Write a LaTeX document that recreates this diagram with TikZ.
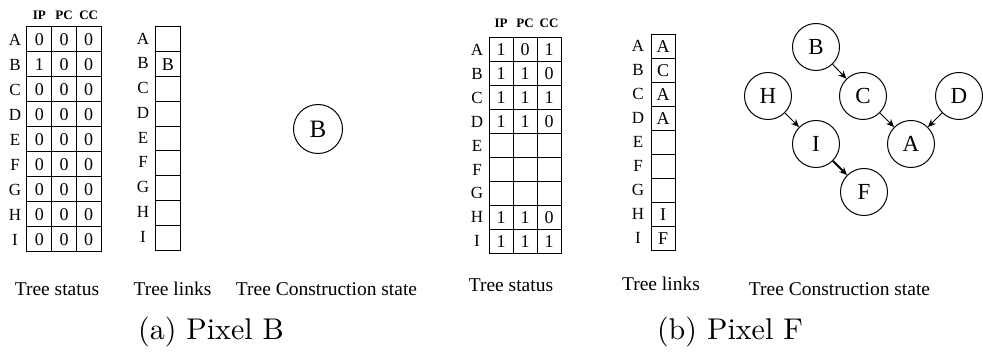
\documentclass[tikz,border=0pt]{standalone}
\usepackage{fontspec}
\newfontfamily\tnr{Liberation Serif}
\newfontfamily\capfont{lmroman10-regular.otf}
\usetikzlibrary{arrows.meta}
\tikzset{
  cell/.style={draw, line width=1pt, inner sep=0pt, font=\tnr\fontsize{18}{18}\selectfont},
  rowlab/.style={font=\tnr\fontsize{17}{17}\selectfont, inner sep=0pt},
  hdr/.style={font=\tnr\bfseries\fontsize{13}{13}\selectfont, inner sep=0pt},
  lab/.style={font=\tnr\fontsize{19.5}{19.5}\selectfont, inner sep=0pt},
  capt/.style={font=\capfont\fontsize{30}{30}\selectfont, inner sep=0pt},
  tnode/.style={circle, draw, line width=1pt, minimum size=47pt, inner sep=0pt, font=\tnr\fontsize{23}{23}\selectfont},
  arr/.style={-{Stealth[length=8pt,width=7pt]}, line width=1pt}
}
\begin{document}
\begin{tikzpicture}[x=1pt,y=-1pt]
\useasboundingbox (0,0) rectangle (983,352);
% ---------------- panel (a) ----------------
\node[hdr] (ha-1) at (39.3,15) {IP};
\node[hdr] (ha-2) at (64,15) {PC};
\node[hdr] (ha-3) at (88.7,15) {CC};
\foreach \r/\a/\b/\c/\l [count=\i from 0] in {A/0/0/0/{},B/1/0/0/B,C/0/0/0/{},D/0/0/0/{},E/0/0/0/{},F/0/0/0/{},G/0/0/0/{},H/0/0/0/{},I/0/0/0/{}}{
  \pgfmathsetmacro\yy{27+25*\i+12.5}
  \node[rowlab] (ra-\r) at (15,\yy) {\r};
  \node[cell, minimum width=24.67pt, minimum height=25pt] (ta-\r-1) at (39.3,\yy) {\a};
  \node[cell, minimum width=24.67pt, minimum height=25pt] (ta-\r-2) at (64,\yy) {\b};
  \node[cell, minimum width=24.67pt, minimum height=25pt] (ta-\r-3) at (88.7,\yy) {\c};
  \pgfmathsetmacro\zz{27+24.8*\i+12.4}
  \node[rowlab] (la-\r) at (143,\zz-1) {\r};
  \node[cell, minimum width=24.5pt, minimum height=24.8pt] (ka-\r) at (167.8,\zz) {\l};
}
\node[tnode, minimum size=49pt, font=\tnr\fontsize{25}{25}\selectfont] (ga-B) at (318,129) {B};
\node[lab] (sa-1) at (57,289) {Tree status};
\node[lab] (sa-2) at (172.5,289) {Tree links};
\node[lab] (sa-3) at (326.5,289) {Tree Construction state};
\node[capt] (ca) at (211,332) {(a) Pixel B};
% ---------------- panel (b) ----------------
\node[hdr] (hb-1) at (501,23) {IP};
\node[hdr] (hb-2) at (525,23) {PC};
\node[hdr] (hb-3) at (549,23) {CC};
\foreach \r/\a/\b/\c/\l [count=\i from 0] in {A/1/0/1/A,B/1/1/0/C,C/1/1/1/A,D/1/1/0/A,E/{}/{}/{}/{},F/{}/{}/{}/{},G/{}/{}/{}/{},H/1/1/0/I,I/1/1/1/F}{
  \pgfmathsetmacro\yy{38+23.9*\i+11.95}
  \node[rowlab] (rb-\r) at (477,\yy) {\r};
  \node[cell, minimum width=24pt, minimum height=23.9pt] (tb-\r-1) at (501,\yy) {\a};
  \node[cell, minimum width=24pt, minimum height=23.9pt] (tb-\r-2) at (525,\yy) {\b};
  \node[cell, minimum width=24pt, minimum height=23.9pt] (tb-\r-3) at (549,\yy) {\c};
  \pgfmathsetmacro\zz{35+24*\i+12}
  \node[rowlab] (lb-\r) at (638,\zz-1) {\r};
  \node[cell, minimum width=24pt, minimum height=24pt] (kb-\r) at (663,\zz) {\l};
}
\node[tnode] (gb-B) at (816,47) {B};
\node[tnode] (gb-H) at (768,96) {H};
\node[tnode] (gb-C) at (863,96) {C};
\node[tnode] (gb-D) at (959,96) {D};
\node[tnode] (gb-I) at (816,144) {I};
\node[tnode] (gb-A) at (911,144) {A};
\node[tnode] (gb-F) at (864,192) {F};
\draw[arr] (gb-B) -- (gb-C);
\draw[arr] (gb-H) -- (gb-I);
\draw[arr] (gb-C) -- (gb-A);
\draw[arr] (gb-D) -- (gb-A);
\draw[arr, line width=2pt] (gb-I) -- (gb-F);
\node[lab] (sb-1) at (511,285) {Tree status};
\node[lab] (sb-2) at (661,284) {Tree links};
\node[lab] (sb-3) at (839.5,289) {Tree Construction state};
\node[capt] (cb) at (730,332) {(b) Pixel F};
\end{tikzpicture}
\end{document}
